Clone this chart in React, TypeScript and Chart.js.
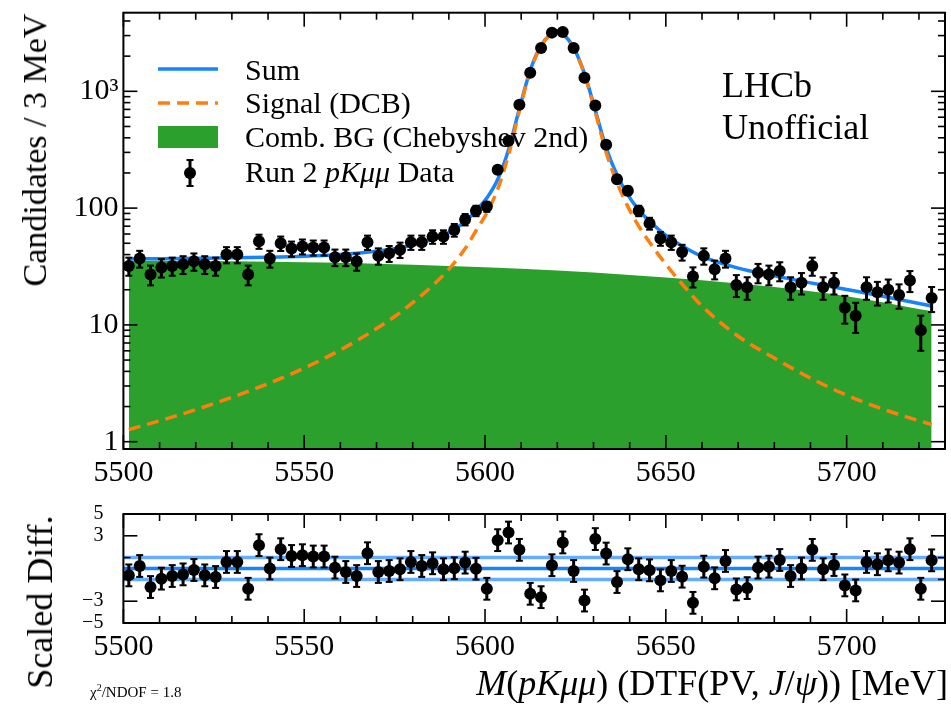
import React, { useEffect, useRef } from "react";
import { Chart, registerables } from "chart.js";

Chart.register(...registerables);

// ---------------- data ----------------
const BIN_CENTERS = [
  5501.5, 5504.5, 5507.5, 5510.5, 5513.5, 5516.5, 5519.5, 5522.5, 5525.5, 5528.5,
  5531.5, 5534.5, 5537.5, 5540.5, 5543.5, 5546.5, 5549.5, 5552.5, 5555.5, 5558.5,
  5561.5, 5564.5, 5567.5, 5570.5, 5573.5, 5576.5, 5579.5, 5582.5, 5585.5, 5588.5,
  5591.5, 5594.5, 5597.5, 5600.5, 5603.5, 5606.5, 5609.5, 5612.5, 5615.5, 5618.5,
  5621.5, 5624.5, 5627.5, 5630.5, 5633.5, 5636.5, 5639.5, 5642.5, 5645.5, 5648.5,
  5651.5, 5654.5, 5657.5, 5660.5, 5663.5, 5666.5, 5669.5, 5672.5, 5675.5, 5678.5,
  5681.5, 5684.5, 5687.5, 5690.5, 5693.5, 5696.5, 5699.5, 5702.5, 5705.5, 5708.5,
  5711.5, 5714.5, 5717.5, 5720.5, 5723.5,
];

const COUNTS = [
  32, 37, 27, 31, 32, 33, 35, 33, 32, 40,
  40, 27, 52, 37, 50, 45, 47, 46, 46, 38,
  38, 35, 51, 39, 41, 44, 51, 51, 57, 57,
  65, 80, 95, 103, 213, 378, 766, 1442, 2350, 3180,
  3220, 2350, 1306, 755, 349, 177, 141, 95, 74, 55,
  51, 42, 26, 39, 30, 37, 22, 21, 28, 27,
  29, 21, 23, 32, 21, 23, 14, 12, 21, 19,
  20, 18, 24, 9, 17,
];

const RESIDUALS = [
  -0.63, 0.23, -1.7, -0.93, -0.69, -0.54, -0.14, -0.63, -0.78, 0.6,
  0.6, -1.86, 2.14, 0.0, 1.77, 1.15, 1.22, 1.1, 1.1, 0.08,
  -0.32, -0.69, 1.4, -0.32, -0.23, -0.07, 0.6, 0.23, 0.48, -0.07,
  0.02, 0.54, -0.02, -1.86, 2.6, 3.3, 1.71, -2.32, -2.63, 0.3,
  2.39, -0.23, -2.94, 2.7, 1.37, -1.24, 0.85, -0.07, -0.17, -1.09,
  -0.23, -0.75, -3.15, 0.17, -0.9, 0.69, -1.92, -1.8, 0.08, 0.17,
  0.78, -0.69, 0.0, 1.71, -0.07, 0.32, -1.55, -2.01, 0.6, 0.39,
  0.75, 0.54, 1.77, -1.86, 0.75,
];

// fit curves
const CURVE_M = [
  5501.5, 5510, 5520, 5530, 5540, 5550, 5560, 5570, 5575, 5580,
  5585, 5590, 5594.5, 5597.5, 5600.5, 5603.5, 5606.5, 5609.5, 5612.5, 5615.5,
  5618.5, 5620, 5621.5, 5624.5, 5627.5, 5630.5, 5633.5, 5636.5, 5639.5, 5642.5,
  5645.5, 5650, 5655, 5660, 5670, 5680, 5690, 5700, 5710, 5723.5,
];
const SIGNAL = [
  1.27, 1.51, 1.88, 2.4, 3.14, 4.27, 6.1, 9.3, 11.8, 15.5,
  21.0, 30, 45, 64, 91, 145, 285, 680, 1480, 2440,
  3120, 3270, 3090, 2340, 1390, 660, 300, 165, 103, 70,
  51, 33, 21.5, 14.5, 8.0, 5.2, 3.5, 2.5, 1.9, 1.4,
];
const SUM = [
  36.7, 36.9, 37.2, 37.5, 37.95, 38.7, 40.1, 42.7, 44.9, 48.2,
  53.4, 62.0, 76.6, 95.4, 122.1, 175.8, 315.6, 710, 1510, 2470,
  3149, 3299, 3119, 2369, 1418, 688, 327.6, 192.3, 129.9, 96.5,
  77.1, 58.5, 46.4, 38.6, 30.6, 26.3, 22.9, 20.1, 17.6, 14.5,
];
const BG_M = [5501.5, 5520, 5540, 5560, 5580, 5600, 5620, 5640, 5660, 5680, 5700, 5723.5];
const BG = [35.4, 35.3, 34.8, 34.0, 32.7, 31.1, 29.2, 26.8, 24.1, 21.1, 17.6, 13.1];

const X_RANGE = [5500, 5727.2];
const X_TICKS = [5500, 5550, 5600, 5650, 5700];
const Y_RANGE_TOP = [0.866, 4710];
const Y_TICKS_TOP = [1, 10, 100, 1000];
const Y_LABELS_TOP = ["1", "10", "100", "10³"];
const Y_RANGE_RES = [-5, 5];
const Y_TICKS_RES = [-5, -3, 3, 5];
const Y_LABELS_RES = ["−5", "−3", "3", "5"];
const BAND_LEVELS = [-1, 0, 1];

// ---------------- style ----------------
const FONT = "'Liberation Serif', 'Times New Roman', serif";
const BLUE = "#1683ff";
const BLUE_LIGHT = "#66acff";
const ORANGE = "#ff7f0e";
const GREEN = "#2ca02c";

function seg(ctx: CanvasRenderingContext2D, x1: number, y1: number, x2: number, y2: number) {
  ctx.beginPath();
  ctx.moveTo(x1, y1);
  ctx.lineTo(x2, y2);
  ctx.stroke();
}

function drawErrorBar(ctx: CanvasRenderingContext2D, px: number, hi: number, lo: number) {
  ctx.lineWidth = 3;
  seg(ctx, px, hi, px, lo);
  ctx.lineWidth = 2;
  seg(ctx, px - 3.5, hi, px + 3.5, hi);
  seg(ctx, px - 3.5, lo, px + 3.5, lo);
}

function framePlugin(yMajor: number[], yMinor: number[]) {
  return {
    id: "frameTicks",
    afterDraw(chart: any) {
      const { ctx, chartArea: a, scales } = chart;
      const x = scales.x;
      const y = scales.y;
      ctx.save();
      ctx.strokeStyle = "#000";
      ctx.lineWidth = 1.6;
      for (let v = X_RANGE[0] + 10; v < X_RANGE[1]; v += 10) {
        if (X_TICKS.includes(v)) continue;
        const p = x.getPixelForValue(v);
        seg(ctx, p, a.bottom, p, a.bottom - 7);
        seg(ctx, p, a.top, p, a.top + 7);
      }
      X_TICKS.forEach((v) => {
        const p = x.getPixelForValue(v);
        seg(ctx, p, a.bottom, p, a.bottom - 14);
        seg(ctx, p, a.top, p, a.top + 14);
      });
      yMajor.forEach((v) => {
        const p = y.getPixelForValue(v);
        seg(ctx, a.left, p, a.left + 14, p);
        seg(ctx, a.right, p, a.right - 14, p);
      });
      yMinor.forEach((v) => {
        const p = y.getPixelForValue(v);
        seg(ctx, a.left, p, a.left + 7, p);
        seg(ctx, a.right, p, a.right - 7, p);
      });
      ctx.lineWidth = 2;
      ctx.strokeRect(a.left, a.top, a.right - a.left, a.bottom - a.top);
      ctx.restore();
    },
  };
}

const topErrorBars = {
  id: "topErrorBars",
  afterDatasetsDraw(chart: any) {
    const { ctx, scales } = chart;
    ctx.save();
    ctx.strokeStyle = "#000";
    BIN_CENTERS.forEach((m, i) => {
      const c = COUNTS[i];
      const e = Math.sqrt(c);
      const px = scales.x.getPixelForValue(m);
      drawErrorBar(ctx, px, scales.y.getPixelForValue(c + e), scales.y.getPixelForValue(Math.max(c - e, 0.5)));
    });
    ctx.restore();
  },
};

const resErrorBars = {
  id: "resErrorBars",
  afterDatasetsDraw(chart: any) {
    const { ctx, scales } = chart;
    ctx.save();
    ctx.strokeStyle = "#000";
    BIN_CENTERS.forEach((m, i) => {
      const r = RESIDUALS[i];
      const px = scales.x.getPixelForValue(m);
      drawErrorBar(ctx, px, scales.y.getPixelForValue(r + 1), scales.y.getPixelForValue(r - 1));
    });
    ctx.restore();
  },
};

const legendPlugin = {
  id: "legendSymbols",
  afterDraw(chart: any) {
    const ctx = chart.ctx as CanvasRenderingContext2D;
    ctx.save();
    ctx.lineWidth = 3.5;
    ctx.strokeStyle = BLUE;
    seg(ctx, 158, 69, 218, 69);
    ctx.strokeStyle = ORANGE;
    ctx.setLineDash([12, 7]);
    seg(ctx, 158, 103, 218, 103);
    ctx.setLineDash([]);
    ctx.fillStyle = GREEN;
    ctx.fillRect(158, 126, 60, 22);
    ctx.strokeStyle = "#000";
    drawErrorBar(ctx, 190, 160, 186);
    ctx.fillStyle = "#000";
    ctx.beginPath();
    ctx.arc(190, 173, 6, 0, Math.PI * 2);
    ctx.fill();
    ctx.restore();
  },
};

function labelFor(ticks: number[], labels: string[]) {
  return (v: any) => {
    const i = ticks.findIndex((t) => Math.abs(t - Number(v)) < 1e-6 * Math.max(1, Math.abs(t)));
    return i >= 0 ? labels[i] : "";
  };
}

function xScale(height: number) {
  return {
    type: "linear",
    min: X_RANGE[0],
    max: X_RANGE[1],
    grid: { display: false, drawTicks: false },
    border: { display: false },
    ticks: {
      font: { family: FONT, size: 30 },
      color: "#000",
      padding: 6,
      autoSkip: false,
      maxRotation: 0,
      callback: (v: any) => String(v),
    },
    afterBuildTicks: (s: any) => {
      s.ticks = X_TICKS.map((v) => ({ value: v }));
    },
    afterFit: (s: any) => {
      s.height = height;
      s.paddingLeft = 0;
      s.paddingRight = 0;
    },
  };
}

export default function App() {
  const topRef = useRef<HTMLCanvasElement>(null);
  const resRef = useRef<HTMLCanvasElement>(null);

  useEffect(() => {
    const yMinorTop: number[] = [];
    Y_TICKS_TOP.forEach((d) => {
      for (let k = 2; k <= 9; k++) if (k * d < Y_RANGE_TOP[1]) yMinorTop.push(k * d);
    });

    const top = new Chart(topRef.current as HTMLCanvasElement, {
      type: "line",
      data: {
        datasets: [
          {
            type: "scatter",
            data: BIN_CENTERS.map((m, i) => ({ x: m, y: COUNTS[i] })),
            pointRadius: 6,
            pointBackgroundColor: "#000",
            pointBorderColor: "#000",
            pointBorderWidth: 0,
            showLine: false,
            order: 0,
          } as any,
          {
            type: "line",
            data: CURVE_M.map((m, i) => ({ x: m, y: SIGNAL[i] })),
            borderColor: ORANGE,
            borderWidth: 3.5,
            borderDash: [12, 7],
            pointRadius: 0,
            fill: false,
            cubicInterpolationMode: "monotone",
            order: 1,
          },
          {
            type: "line",
            data: CURVE_M.map((m, i) => ({ x: m, y: SUM[i] })),
            borderColor: BLUE,
            borderWidth: 3.5,
            pointRadius: 0,
            fill: false,
            cubicInterpolationMode: "monotone",
            order: 2,
          },
          {
            type: "line",
            data: BG_M.map((m, i) => ({ x: m, y: BG[i] })),
            borderColor: GREEN,
            borderWidth: 0,
            backgroundColor: GREEN,
            pointRadius: 0,
            fill: "start",
            cubicInterpolationMode: "monotone",
            order: 3,
          },
        ],
      },
      options: {
        responsive: false,
        maintainAspectRatio: false,
        animation: false,
        devicePixelRatio: 1,
        events: [],
        layout: { padding: { top: 12.7, right: 2, left: 0, bottom: 0 } },
        plugins: { legend: { display: false }, tooltip: { enabled: false } },
        scales: {
          x: xScale(51) as any,
          y: {
            type: "logarithmic",
            min: Y_RANGE_TOP[0],
            max: Y_RANGE_TOP[1],
            grid: { display: false, drawTicks: false },
            border: { display: false },
            ticks: {
              font: { family: FONT, size: 30 },
              color: "#000",
              padding: 5,
              autoSkip: false,
              callback: labelFor(Y_TICKS_TOP, Y_LABELS_TOP),
            },
            afterBuildTicks: (s: any) => {
              s.ticks = Y_TICKS_TOP.map((v) => ({ value: v }));
            },
            afterFit: (s: any) => {
              s.width = 123.4;
              s.paddingTop = 0;
              s.paddingBottom = 0;
            },
          } as any,
        },
      },
      plugins: [topErrorBars, framePlugin(Y_TICKS_TOP, yMinorTop), legendPlugin],
    });

    const res = new Chart(resRef.current as HTMLCanvasElement, {
      type: "line",
      data: {
        datasets: [
          {
            type: "scatter",
            data: BIN_CENTERS.map((m, i) => ({ x: m, y: RESIDUALS[i] })),
            pointRadius: 6,
            pointBackgroundColor: "#000",
            pointBorderColor: "#000",
            pointBorderWidth: 0,
            showLine: false,
            order: 0,
          } as any,
          ...BAND_LEVELS.map((lvl) => ({
            type: "line" as const,
            data: [
              { x: X_RANGE[0], y: lvl },
              { x: X_RANGE[1], y: lvl },
            ],
            borderColor: lvl === 0 ? BLUE : BLUE_LIGHT,
            borderWidth: 3.5,
            pointRadius: 0,
            fill: false,
            order: lvl === 0 ? 1 : 2,
          })),
        ],
      },
      options: {
        responsive: false,
        maintainAspectRatio: false,
        animation: false,
        devicePixelRatio: 1,
        events: [],
        layout: { padding: { top: 14, right: 2, left: 0, bottom: 0 } },
        plugins: { legend: { display: false }, tooltip: { enabled: false } },
        scales: {
          x: xScale(81) as any,
          y: {
            type: "linear",
            min: Y_RANGE_RES[0],
            max: Y_RANGE_RES[1],
            grid: { display: false, drawTicks: false },
            border: { display: false },
            ticks: {
              font: { family: FONT, size: 20 },
              color: "#000",
              padding: 20,
              autoSkip: false,
              callback: labelFor(Y_TICKS_RES, Y_LABELS_RES),
            },
            afterBuildTicks: (s: any) => {
              s.ticks = Y_TICKS_RES.map((v) => ({ value: v }));
            },
            afterFit: (s: any) => {
              s.width = 123.4;
              s.paddingTop = 0;
              s.paddingBottom = 0;
            },
          } as any,
        },
      },
      plugins: [resErrorBars, framePlugin([-3, 3], [-1, 1])],
    });

    return () => {
      top.destroy();
      res.destroy();
    };
  }, []);

  const abs = (extra: React.CSSProperties): React.CSSProperties => ({
    position: "absolute",
    whiteSpace: "nowrap",
    lineHeight: 1,
    color: "#000",
    fontFamily: FONT,
    ...extra,
  });

  return (
    <div style={{ position: "absolute", left: 0, top: 0, width: 951, height: 704, background: "#fff", overflow: "hidden" }}>
      <canvas ref={topRef} width={951} height={500} style={{ position: "absolute", left: 0, top: 0 }} />
      <canvas ref={resRef} width={951} height={204} style={{ position: "absolute", left: 0, top: 500 }} />

      {/* legend text */}
      <div style={abs({ left: 245, top: 55, fontSize: 30 })}>Sum</div>
      <div style={abs({ left: 245, top: 88, fontSize: 30 })}>Signal (DCB)</div>
      <div style={abs({ left: 245, top: 122, fontSize: 30 })}>Comb. BG (Chebyshev 2nd)</div>
      <div style={abs({ left: 245, top: 157, fontSize: 30 })}>
        Run 2 <i>pKμμ</i> Data
      </div>

      {/* experiment label */}
      <div style={abs({ left: 722, top: 64, fontSize: 36, lineHeight: "42px" })}>
        LHCb
        <br />
        Unofficial
      </div>

      {/* axis titles */}
      <div
        style={abs({
          left: 35,
          top: 150,
          fontSize: 34,
          transform: "translate(-50%, -50%) rotate(-90deg)",
        })}
      >
        Candidates / 3 MeV
      </div>
      <div
        style={abs({
          left: 40,
          top: 602,
          fontSize: 36,
          transform: "translate(-50%, -50%) rotate(-90deg)",
        })}
      >
        Scaled Diff.
      </div>
      <div style={abs({ right: 3, top: 665, fontSize: 36 })}>
        <i>M</i>(<i>pKμμ</i>) (DTF(PV, <i>J</i>/<i>ψ</i>)) [MeV]
      </div>
      <div style={abs({ left: 90, top: 683, fontSize: 15 })}>
        χ<sup style={{ fontSize: 10 }}>2</sup>/NDOF = 1.8
      </div>
    </div>
  );
}
